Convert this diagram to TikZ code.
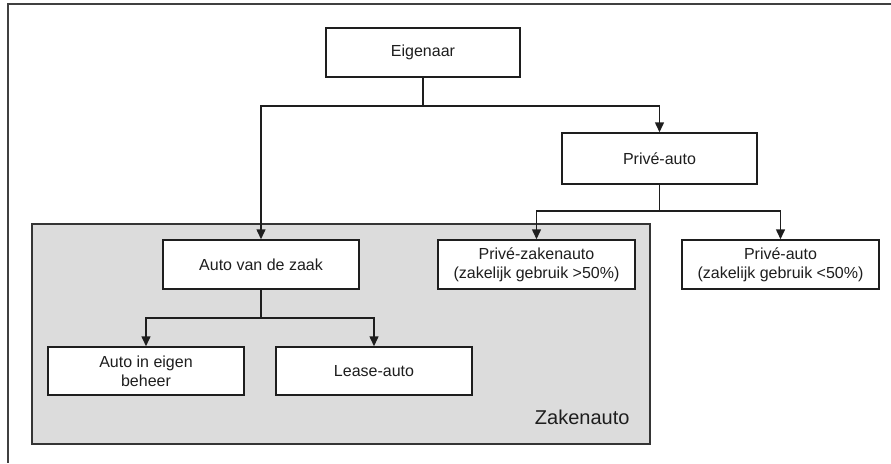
\documentclass[tikz,border=0pt]{standalone}
\usepackage{fontspec}
\setmainfont{Liberation Sans}
\usetikzlibrary{arrows.meta}
\definecolor{zgrey}{RGB}{220,220,220}
\definecolor{ink}{RGB}{30,30,30}
\tikzset{
  box/.style={draw=ink, line width=1.5pt, fill=white, rectangle, inner sep=0pt,
    minimum width=196pt, minimum height=49pt, align=center, text=ink,
    font=\fontsize{16}{19}\selectfont},
  conn/.style={draw=ink, line width=1.5pt},
  arr/.style={conn, -{Triangle[length=10pt,width=9pt]}},
  frameline/.style={draw=black!75, line width=1.7pt}
}
\begin{document}
\begin{tikzpicture}[x=1pt,y=-1pt]
\useasboundingbox (0,0) rectangle (891,463);
% outer frame (top and left)
\draw[frameline] (891,4) -- (8,4) -- (8,463);
% grey Zakenauto region
\draw[draw=ink!90, line width=1.5pt, fill=zgrey] (32,224) rectangle (650,444);
\node[anchor=base east, text=ink, font=\fontsize{20}{24}\selectfont] (zlabel) at (633,424) {Zakenauto};
% nodes
\node[box, minimum width=194pt] (eig) at (423,52.5) {Eigenaar};
\node[box, minimum width=195pt, minimum height=51pt] (priv) at (659.5,158.5) {Privé-auto};
\node[box] (avdz) at (261,264.5) {Auto van de zaak};
\node[box, minimum width=197pt] (pz) at (536.5,264.5) {Privé-zakenauto\\(zakelijk gebruik >50\%)};
\node[box, minimum width=197pt] (pa) at (780.5,264.5) {Privé-auto\\(zakelijk gebruik <50\%)};
\node[box, minimum height=48pt] (aeb) at (146,371) {Auto in eigen\\beheer};
\node[box, minimum height=48pt] (lease) at (374,371) {Lease-auto};
% junctions
\coordinate (j1) at (423,106);
\coordinate (j2) at (659.5,211);
\coordinate (j3) at (261,318);
% connectors
\draw[conn] (eig.south) -- (j1);
\draw[arr] (j1) -| (avdz.north);
\draw[arr] (j1) -| (priv.north);
\draw[conn] (priv.south) -- (j2);
\draw[arr] (j2) -| (pz.north);
\draw[arr] (j2) -| (pa.north);
\draw[conn] (avdz.south) -- (j3);
\draw[arr] (j3) -| (aeb.north);
\draw[arr] (j3) -| (lease.north);
\end{tikzpicture}
\end{document}
